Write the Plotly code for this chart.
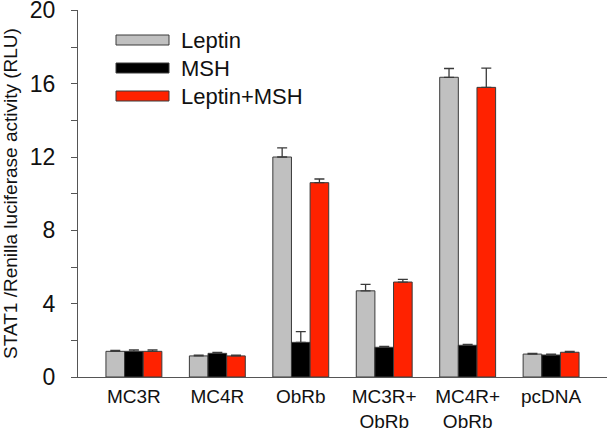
import plotly.graph_objects as go

# receptor groups along the x axis
groups = ["MC3R", "MC4R", "ObRb", "MC3R+<br>ObRb", "MC4R+<br>ObRb", "pcDNA"]

# mean luciferase activity (RLU)
leptin = [1.40, 1.15, 12.0, 4.70, 16.35, 1.25]
msh = [1.40, 1.29, 1.89, 1.62, 1.73, 1.20]
leptin_msh = [1.40, 1.15, 10.6, 5.18, 15.80, 1.35]

# upper error bars (SEM)
leptin_err = [0.05, 0.04, 0.50, 0.35, 0.48, 0.04]
msh_err = [0.08, 0.05, 0.58, 0.05, 0.05, 0.04]
leptin_msh_err = [0.08, 0.04, 0.20, 0.15, 1.05, 0.04]

series = [
    ("Leptin", leptin, leptin_err, "#c0c0c0"),
    ("MSH", msh, msh_err, "#000000"),
    ("Leptin+MSH", leptin_msh, leptin_msh_err, "#ff2200"),
]

FONT = "Liberation Sans, Arial, sans-serif"

fig = go.Figure()
for name, vals, errs, color in series:
    fig.add_trace(
        go.Bar(
            x=groups,
            y=vals,
            name=name,
            marker=dict(color=color, line=dict(color="#3a3a3a", width=1)),
            error_y=dict(
                type="data",
                symmetric=False,
                array=errs,
                arrayminus=[0] * len(errs),
                color="#3a3a3a",
                thickness=1.3,
                width=5,
            ),
            showlegend=False,
        )
    )

# legend drawn by hand to get the wide SigmaPlot style swatches
legend_y = [40, 68, 96]
H = 429
for (name, _, _, color), y in zip(series, legend_y):
    fig.add_shape(
        type="rect",
        xref="paper", yref="paper",
        x0=(116 - 78) / 529, x1=(169 - 78) / 529,
        y0=(H - 52 - (y + 5)) / 367, y1=(H - 52 - (y - 5)) / 367,
        fillcolor=color,
        line=dict(color="#3a3a3a", width=1),
    )
    fig.add_annotation(
        xref="paper", yref="paper",
        x=(181 - 78) / 529, y=(H - 52 - y) / 367,
        text=name, showarrow=False,
        xanchor="left", yanchor="middle",
        xshift=-2,
        font=dict(family=FONT, size=22, color="#111111"),
    )

fig.update_layout(
    width=607,
    height=429,
    margin=dict(l=78, r=0, t=10, b=52),
    paper_bgcolor="white",
    plot_bgcolor="white",
    barmode="group",
    bargap=0.33,
    bargroupgap=0,
    font=dict(family=FONT, size=20, color="#111111"),
    xaxis=dict(
        range=[-0.67, 5.67],
        showline=True,
        linecolor="#555555",
        linewidth=1.3,
        ticks="",
        ticklabelstandoff=2,
        tickfont=dict(size=19),
        showgrid=False,
        automargin=False,
    ),
    yaxis=dict(
        range=[0, 20.02],
        tickvals=[0, 4, 8, 12, 16, 20],
        showline=True,
        linecolor="#555555",
        linewidth=1.3,
        ticks="outside",
        ticklen=6,
        tickcolor="#555555",
        minor=dict(dtick=2, ticks="outside", ticklen=6, tickcolor="#555555"),
        tickfont=dict(size=23),
        ticklabelstandoff=11,
        ticklabeloverflow="allow",
        automargin=False,
        showgrid=False,
        zeroline=False,
        title=dict(
            text="STAT1 /Renilla luciferase activity (RLU)",
            font=dict(size=19),
            standoff=12,
        ),
    ),
)

# drop the browser's default body margin so the figure sits at the page corner
fig.write_html(
    "out.html",
    config={"displayModeBar": False},
    post_script="document.body.style.margin='0';",
)
